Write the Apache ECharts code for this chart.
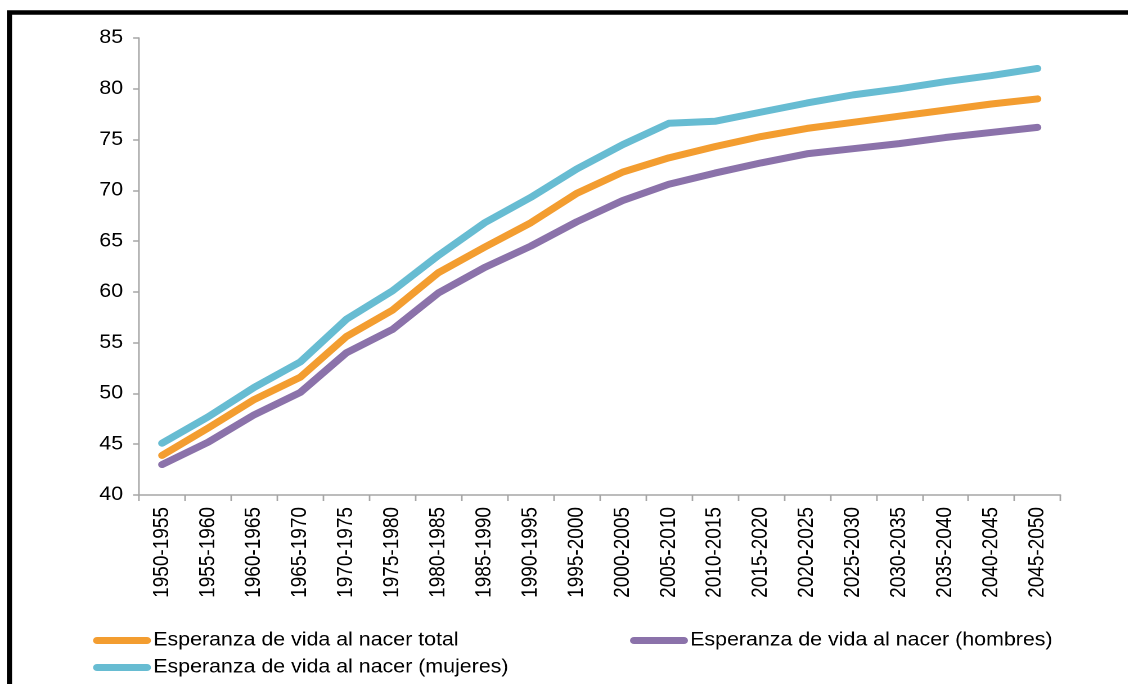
<!DOCTYPE html>
<html>
<head>
<meta charset="utf-8">
<script src="https://cdn.jsdelivr.net/npm/echarts@6/dist/echarts.min.js"></script>
<style>
  html, body { margin: 0; padding: 0; background: #fff; overflow: hidden; }
  /* el original viene estirado en horizontal */
  #chart { width: 1002.7px; height: 684px; transform: scaleX(1.125); transform-origin: 0 0; }
</style>
</head>
<body>
<div id="chart"></div>
<script>
// periodos quinquenales
var periodos = [
  "1950-1955", "1955-1960", "1960-1965", "1965-1970", "1970-1975",
  "1975-1980", "1980-1985", "1985-1990", "1990-1995", "1995-2000",
  "2000-2005", "2005-2010", "2010-2015", "2015-2020", "2020-2025",
  "2025-2030", "2030-2035", "2035-2040", "2040-2045", "2045-2050"
];
var total = [43.9, 46.6, 49.4, 51.6, 55.6, 58.2, 61.9, 64.4, 66.8, 69.7,
  71.8, 73.2, 74.3, 75.3, 76.1, 76.7, 77.3, 77.9, 78.5, 79.0];
var hombres = [43.0, 45.2, 47.9, 50.1, 54.0, 56.3, 59.9, 62.4, 64.5, 66.9,
  69.0, 70.6, 71.7, 72.7, 73.6, 74.1, 74.6, 75.2, 75.7, 76.2];
var mujeres = [45.1, 47.7, 50.6, 53.1, 57.3, 60.1, 63.6, 66.8, 69.3, 72.1,
  74.5, 76.6, 76.8, 77.7, 78.6, 79.4, 80.0, 80.7, 81.3, 82.0];
var yTicks = { min: 40, max: 85, step: 5 };

var nombres = [
  "Esperanza de vida al nacer total",
  "Esperanza de vida al nacer (hombres)",
  "Esperanza de vida al nacer (mujeres)"
];
var colores = ["#F39D30", "#8B72AA", "#67BCD2"];

var chart = echarts.init(document.getElementById("chart"), null, { devicePixelRatio: 2 });
var fuente = "'Liberation Sans', Arial, sans-serif";
var icono = "path://M3.5,0 L48,0 A3.5,3.5 0 0 1 48,7 L3.5,7 A3.5,3.5 0 0 1 3.5,0 Z";

function leyenda(nombre, left, top) {
  return {
    data: [nombre],
    left: left,
    top: top,
    padding: 0,
    icon: icono,
    itemWidth: 51.5,
    itemHeight: 7,
    textStyle: { fontFamily: fuente, fontSize: 19, color: "#000", padding: [0, 0, 0, -3] }
  };
}

function serie(nombre, datos, color) {
  return {
    name: nombre,
    type: "line",
    data: datos,
    color: color,
    symbol: "none",
    lineStyle: { width: 7, color: color, cap: "round", join: "round" }
  };
}

chart.setOption({
  animation: false,
  backgroundColor: "#fff",
  // marco negro recortado
  graphic: [{
    type: "rect",
    shape: { x: 8.4, y: 12.5, width: 1300, height: 900 },
    style: { fill: "none", stroke: "#000", lineWidth: 4.6 },
    z: 100
  }],
  grid: { left: 123.6, right: 60.4, top: 38, bottom: 189 },
  legend: [
    leyenda(nombres[0], 82.7, 631),
    leyenda(nombres[1], 560, 631),
    leyenda(nombres[2], 82.7, 658)
  ],
  xAxis: {
    type: "category",
    data: periodos,
    boundaryGap: true,
    axisLine: { lineStyle: { color: "#A6A6A6", width: 1.5 } },
    axisTick: { show: true, length: 6, lineStyle: { color: "#A6A6A6", width: 1.4 } },
    axisLabel: { rotate: 90, margin: 12, fontFamily: fuente, fontSize: 19, color: "#000" }
  },
  yAxis: {
    type: "value",
    min: yTicks.min,
    max: yTicks.max,
    interval: yTicks.step,
    splitLine: { show: false },
    axisLine: { show: true, lineStyle: { color: "#A6A6A6", width: 1.4 } },
    axisTick: { show: true, length: 5.3, lineStyle: { color: "#A6A6A6", width: 1.5 } },
    axisLabel: { margin: 14.2, fontFamily: fuente, fontSize: 19, color: "#000" }
  },
  series: [
    serie(nombres[0], total, colores[0]),
    serie(nombres[1], hombres, colores[1]),
    serie(nombres[2], mujeres, colores[2])
  ]
});
</script>
</body>
</html>
